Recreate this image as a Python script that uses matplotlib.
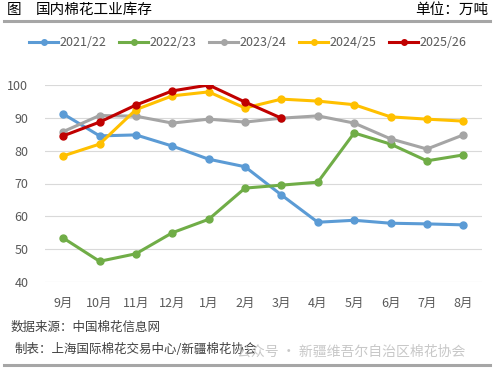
import matplotlib
matplotlib.use("Agg")
import matplotlib.pyplot as plt
from matplotlib.lines import Line2D

plt.rcParams['font.family'] = ['Noto Sans CJK SC', 'DejaVu Sans']

months = ["9月", "10月", "11月", "12月", "1月", "2月", "3月", "4月", "5月", "6月", "7月", "8月"]
series_names = ["2021/22", "2022/23", "2023/24", "2024/25", "2025/26"]
s2122 = [91.2, 84.5, 84.8, 81.4, 77.4, 75.1, 66.5, 58.2, 58.8, 57.9, 57.7, 57.4]
s2223 = [53.4, 46.3, 48.6, 55.0, 59.1, 68.6, 69.5, 70.4, 85.4, 82.0, 76.9, 78.7]
s2324 = [85.8, 90.7, 90.5, 88.4, 89.6, 88.7, 89.9, 90.6, 88.4, 83.6, 80.5, 84.8]
s2425 = [78.4, 82.0, 92.5, 96.7, 97.9, 93.0, 95.7, 95.1, 94.0, 90.3, 89.6, 89.0]
s2526 = [84.5, 88.7, 93.9, 98.2, 100.0, 94.8, 89.9]
yticks = [40, 50, 60, 70, 80, 90, 100]

colors = ["#5B9BD5", "#70AD47", "#A5A5A5", "#FFC000", "#C00000"]
data = [s2122, s2223, s2324, s2425, s2526]

fig = plt.figure(figsize=(4.94, 3.74), dpi=100)
ax = fig.add_axes([45/494, 1-282/374, (481.5-45)/494, (282-85)/374])

for name, vals, c in zip(series_names, data, colors):
    ax.plot(range(len(vals)), vals, color=c, lw=2.2, marker='o', ms=5,
            solid_capstyle='round', label=name)

ax.set_xlim(-0.5, 11.5)
ax.set_ylim(40, 100)
ax.set_yticks(yticks)
ax.set_xticks(range(len(months)))
ax.set_xticklabels(months)
ax.grid(axis='y', color='#d9d9d9', lw=0.8)
ax.set_axisbelow(True)
for s in ax.spines.values():
    s.set_visible(False)
ax.tick_params(length=0, labelsize=9, colors='#595959')
ax.tick_params(axis='y', pad=12)
ax.tick_params(axis='x', pad=11)

handles = [Line2D([0], [0], color=c, lw=2.2, marker='o', ms=4) for c in colors]
fig.legend(handles, series_names, loc='center', bbox_to_anchor=(248/494, 1-43/374),
           ncol=5, frameon=False, fontsize=9, handlelength=2.3, handletextpad=0.15,
           columnspacing=1.0, labelcolor='#595959')

# header
fig.text(7/494, 1-10/374, "图", fontsize=10.5, va='center', ha='left')
fig.text(36/494, 1-10/374, "国内棉花工业库存", fontsize=10.5, va='center', ha='left')
fig.text(488/494, 1-10/374, "单位：万吨", fontsize=10.5, va='center', ha='right')
fig.add_artist(Line2D([4/494, 490/494], [1-20.5/374, 1-20.5/374], color='#a6a6a6', lw=2.2))

# footer
fig.text(11/494, 1-327/374, "数据来源：中国棉花信息网", fontsize=9, va='center', ha='left', color='#404040')
fig.text(15/494, 1-349/374, "制表：上海国际棉花交易中心/新疆棉花协会", fontsize=9, va='center', ha='left', color='#404040')
fig.text(237/494, 1-352/374, "公众号 · 新疆维吾尔自治区棉花协会", fontsize=10, va='center', ha='left', color='#c8c8c8')
fig.add_artist(Line2D([4/494, 490/494], [1-364.5/374, 1-364.5/374], color='#a6a6a6', lw=2.2))

fig.savefig("out.png", dpi=100)
